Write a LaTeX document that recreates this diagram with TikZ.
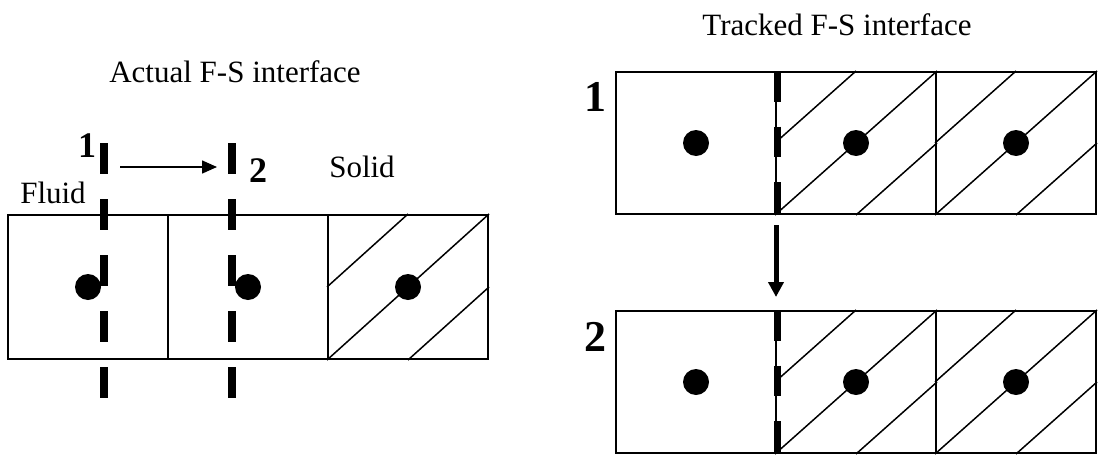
\documentclass[tikz,border=0pt]{standalone}
\usepackage{fontspec}
\setmainfont{Liberation Serif}
\usetikzlibrary{arrows.meta}
\tikzset{
  cell/.style={draw, line width=2pt, minimum width=160pt, minimum height=144pt, inner sep=0pt},
  rcell/.style={cell, minimum height=142pt},
  dot/.style={circle, fill=black, minimum size=26pt, inner sep=0pt},
  hatch/.style={line width=1.5pt},
  txt/.style={anchor=base, inner sep=0pt, font=\fontsize{31}{36}\selectfont},
  numl/.style={anchor=base, inner sep=0pt, font=\bfseries\fontsize{36}{40}\selectfont},
  numr/.style={anchor=base, inner sep=0pt, font=\bfseries\fontsize{44}{48}\selectfont},
  ldash/.style={line width=8pt, dash pattern=on 31pt off 25pt},
  rdash/.style={line width=7pt, dash pattern=on 30.5pt off 25pt},
}
\newcommand{\hatchcell}[1]{%
  \draw[hatch] (#1.south west) -- (#1.north east);
  \draw[hatch] (#1.west) -- (#1.north);
  \draw[hatch] (#1.south) -- (#1.east);}
\begin{document}
\begin{tikzpicture}[x=1pt,y=-1pt]
\useasboundingbox (0,0) rectangle (1099,455);
% ---------- left diagram ----------
\node[cell] (l1) at (88,287) {};
\node[cell] (l2) at (248,287) {};
\node[cell] (l3) at (408,287) {};
\hatchcell{l3}
\node[dot] (ld1) at (l1) {};
\node[dot] (ld2) at (l2) {};
\node[dot] (ld3) at (l3) {};
\coordinate (i1top) at (104,143);
\coordinate (i1bot) at (104,398);
\coordinate (i2top) at (232,143);
\coordinate (i2bot) at (232,398);
\draw[ldash] (i1top) -- (i1bot);
\draw[ldash] (i2top) -- (i2bot);
\coordinate (mvA) at (120,167);
\coordinate (mvB) at (217,167);
\draw[line width=1.5pt, -{Triangle[length=15pt,width=13pt]}] (mvA) -- (mvB);
\node[txt] (actual) at (235,82) {Actual F-S interface};
\node[txt] (fluid) at (53,203) {Fluid};
\node[txt] (solid) at (362,177) {Solid};
\node[numl] (ln1) at (87,157) {1};
\node[numl] (ln2) at (258,182) {2};
% ---------- right diagram ----------
\node[rcell] (t1) at (696,143) {};
\node[rcell] (t2) at (856,143) {};
\node[rcell] (t3) at (1016,143) {};
\hatchcell{t2}
\hatchcell{t3}
\node[dot] (td1) at (t1) {};
\node[dot] (td2) at (t2) {};
\node[dot] (td3) at (t3) {};
\draw[rdash] (t1.north east) -- (t1.south east);
\node[rcell] (b1) at (696,382) {};
\node[rcell] (b2) at (856,382) {};
\node[rcell] (b3) at (1016,382) {};
\hatchcell{b2}
\hatchcell{b3}
\node[dot] (bd1) at (b1) {};
\node[dot] (bd2) at (b2) {};
\node[dot] (bd3) at (b3) {};
\draw[rdash] (b1.north east) -- (b1.south east);
\coordinate (dnA) at (776,225);
\coordinate (dnB) at (776,297);
\draw[line width=5pt, -{Triangle[length=15pt,width=15pt]}] (dnA) -- (dnB);
\node[txt] (tracked) at (837,35) {Tracked F-S interface};
\node[numr] (rn1) at (595,111) {1};
\node[numr] (rn2) at (595,351) {2};
\end{tikzpicture}
\end{document}
